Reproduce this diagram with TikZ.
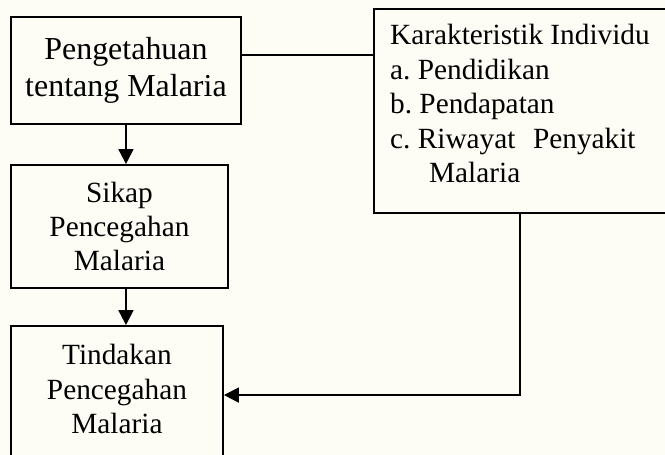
\documentclass[tikz,border=0pt]{standalone}
\usepackage{fontspec}
\setmainfont{Liberation Serif}
\usetikzlibrary{arrows.meta,positioning}
\frenchspacing
\definecolor{cBack}{RGB}{253,253,246}
\tikzset{
  basebox/.style={rectangle,draw=black,line width=0.75pt,align=center,
                  font=\fontsize{11}{12.9}\selectfont,inner sep=0pt},
  topnode/.style={basebox,font=\fontsize{12}{13.9}\selectfont,
                  minimum width=3.035cm,minimum height=1.412cm},
  sikapnode/.style={basebox,minimum width=2.863cm,minimum height=1.623cm},
  tindnode/.style={basebox,minimum width=2.797cm,minimum height=1.821cm},
  krknode/.style={basebox,align=left,minimum width=3.853cm,
                  minimum height=2.692cm},
  arr/.style={-{Triangle[length=5.6pt,width=5.6pt]},line width=0.75pt,color=black},
  plainline/.style={line width=0.75pt,color=black}
}
\begin{document}
\begin{tikzpicture}
  \path[use as bounding box,fill=cBack] (0,0) rectangle (8.774,-6.003);
  \clip (0,0) rectangle (8.774,-6.003);
  \node[topnode] (peng) at (1.662,-0.930)
      {Pengetahuan\\tentang Malaria};
  \node[sikapnode,below=0.515cm of peng.south west,anchor=north west] (sikap)
      {Sikap\\Pencegahan\\Malaria};
  \node[tindnode,below=0.475cm of sikap.south west,anchor=north west] (tind)
      {Tindakan\\Pencegahan\\Malaria\rule[-4.5pt]{0pt}{0pt}};
  \node[krknode,right=1.728cm of peng.north east,anchor=north west,yshift=0.106cm] (krk)
      {Karakteristik Individu\\a. Pendidikan\\b. Pendapatan\\
       c. Riwayat\hspace{0.6em}Penyakit\\\hspace*{1.33em}Malaria\rule[-5.6pt]{0pt}{0pt}};

  \draw[plainline] ([yshift=0.205cm]peng.east)--([yshift=0.205cm]peng.east -| krk.west);
  \draw[arr] (peng.south)--(sikap.north -| peng.south);
  \draw[arr] (sikap.south -| peng.south)--(tind.north -| peng.south);
  \draw[arr] (krk.south)|-(tind.east);
\end{tikzpicture}
\end{document}
